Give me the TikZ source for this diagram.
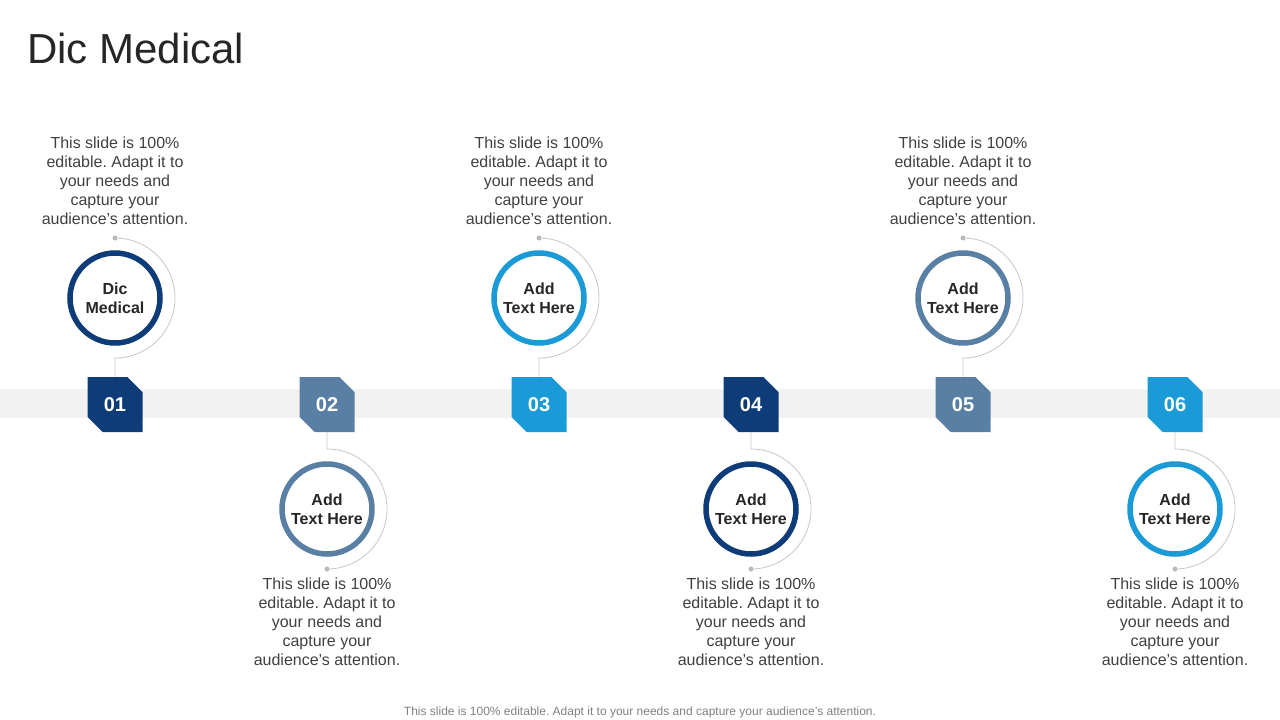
\documentclass[tikz,border=0pt]{standalone}
\usepackage{fontspec}
\setmainfont{Liberation Sans}
\usetikzlibrary{shapes.misc}
\definecolor{navy}{HTML}{0E3C78}
\definecolor{slate}{HTML}{5A7FA5}
\definecolor{cyan}{HTML}{1A9AD6}
\definecolor{band}{HTML}{F2F2F2}
\definecolor{txt}{HTML}{404040}
\tikzset{
  numbox/.style={chamfered rectangle, chamfered rectangle corners={north east,south west},
    chamfered rectangle xsep=8pt, chamfered rectangle ysep=8pt, inner sep=0pt,
    minimum width=55pt, minimum height=55pt, text=white,
    font=\fontsize{20}{24}\selectfont\bfseries},
  ring/.style={circle, draw, line width=5.5pt, fill=white, minimum size=90pt, inner sep=0pt,
    align=center, text=black!85, font=\fontsize{16}{19}\selectfont\bfseries},
  desc/.style={align=center, text=txt, font=\fontsize{16}{19}\selectfont},
  guide/.style={draw=black!22, line width=0.8pt},
  dot/.style={circle, fill=black!28, inner sep=0pt, minimum size=5pt}
}
\frenchspacing
\begin{document}
\begin{tikzpicture}[x=1pt,y=1pt]
  \useasboundingbox (0,0) rectangle (1280,-720);
  % title and band
  \node[anchor=base west, text=black!85, font=\fontsize{42}{50}\selectfont, inner sep=0pt] (title) at (27,-63) {Dic Medical};
  \fill[band] (0,-389) rectangle (1280,-418);
  % top items
  \foreach \i/\x/\c/\lab in {1/115/navy/{Dic\\Medical}, 3/539/cyan/{Add\\Text Here}, 5/963/slate/{Add\\Text Here}} {
    \node[numbox, fill=\c] (n\i) at (\x,-404.5) {0\i};
    \node[dot] (d\i) at (\x,-238) {};
    \draw[guide] (d\i.center) arc[start angle=90, end angle=-90, radius=60] -- (n\i.north);
    \node[ring, draw=\c] (c\i) at (\x,-298) {\lab};
    \node[desc] (t\i) at (\x,-181) {This slide is 100\%\\editable. Adapt it to\\your needs and\\capture your\\audience’s attention.};
  }
  % bottom items
  \foreach \i/\x/\c in {2/327/slate, 4/751/navy, 6/1175/cyan} {
    \node[numbox, fill=\c] (n\i) at (\x,-404.5) {0\i};
    \node[dot] (d\i) at (\x,-569) {};
    \draw[guide] (n\i.south) -- (\x,-449) arc[start angle=90, end angle=-90, radius=60] -- (d\i.center);
    \node[ring, draw=\c] (c\i) at (\x,-509) {Add\\Text Here};
    \node[desc] (t\i) at (\x,-622) {This slide is 100\%\\editable. Adapt it to\\your needs and\\capture your\\audience’s attention.};
  }
  % footer
  \node[text=black!50, font=\fontsize{12}{14}\selectfont] (foot) at (640,-712) {This slide is 100\% editable. Adapt it to your needs and capture your audience’s attention.};
\end{tikzpicture}
\end{document}
